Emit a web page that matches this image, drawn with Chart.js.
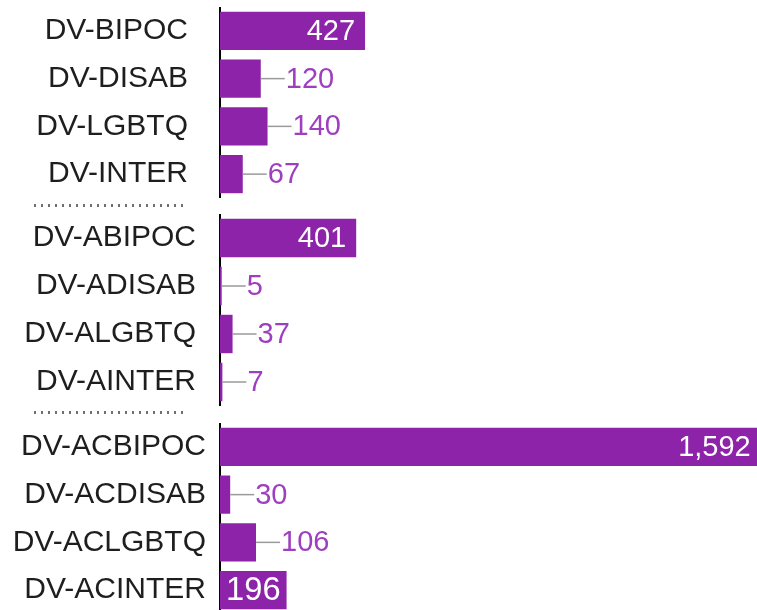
<!DOCTYPE html>
<html>
<head>
<meta charset="utf-8">
<script src="https://cdn.jsdelivr.net/npm/chart.js@4"></script>
<style>
  html, body { margin: 0; padding: 0; background: #fff; width: 757px; height: 610px; overflow: hidden; }
  .panel { position: absolute; left: 0; width: 757px; }
  .sep { position: absolute; left: 34px; width: 150px; height: 3px;
         background: repeating-linear-gradient(to right, #707070 0 2.5px, transparent 2.5px 7px); }
</style>
</head>
<body>
<div class="panel" style="top:7px;height:191px"><canvas id="c1"></canvas></div>
<div class="sep" style="top:204px"></div>
<div class="panel" style="top:214px;height:192px"><canvas id="c2"></canvas></div>
<div class="sep" style="top:411px"></div>
<div class="panel" style="top:423px;height:191px"><canvas id="c3"></canvas></div>
<script>
// ---- data ----
const categories1 = ['DV-BIPOC', 'DV-DISAB', 'DV-LGBTQ', 'DV-INTER'];
const values1 = [427, 120, 140, 67];
const categories2 = ['DV-ABIPOC', 'DV-ADISAB', 'DV-ALGBTQ', 'DV-AINTER'];
const values2 = [401, 5, 37, 7];
const categories3 = ['DV-ACBIPOC', 'DV-ACDISAB', 'DV-ACLGBTQ', 'DV-ACINTER'];
const values3 = [1592, 30, 106, 196];
const xMax = 1581;

const BAR = '#8C23A8';
const OUT_TEXT = '#9E3FC0';
const FONT_FAMILY = '"Liberation Sans", Arial, sans-serif';

const valueLabels = {
  id: 'valueLabels',
  afterDatasetsDraw(chart) {
    const ctx = chart.ctx;
    const meta = chart.getDatasetMeta(0);
    const data = chart.data.datasets[0].data;
    const right = chart.chartArea.right;
    ctx.save();
    ctx.textBaseline = 'middle';
    meta.data.forEach((el, i) => {
      const txt = data[i].toLocaleString('en-US');
      let size = 29;
      ctx.font = size + 'px ' + FONT_FAMILY;
      const w = ctx.measureText(txt).width;
      const x = el.x, y = el.y, base = el.base;
      const barW = x - base;
      if (barW >= w + 12) {
        let pad = 10;
        if (barW < 100) {
          // short bar: the label is scaled to fill the bar
          size = Math.min(36, (barW - 12) / w * 29);
          ctx.font = size + 'px ' + FONT_FAMILY;
          pad = 6;
        }
        ctx.fillStyle = '#ffffff';
        ctx.textAlign = 'right';
        ctx.fillText(txt, Math.min(x, right + 6) - pad, y + 1);
      } else {
        ctx.strokeStyle = '#9a9a9a';
        ctx.lineWidth = 1.5;
        ctx.beginPath();
        ctx.moveTo(x, y);
        ctx.lineTo(x + 24, y);
        ctx.stroke();
        ctx.fillStyle = OUT_TEXT;
        ctx.textAlign = 'left';
        ctx.fillText(txt, x + 25, y + 1);
      }
    });
    ctx.restore();
  }
};

function makeChart(id, labels, values, labelGap) {
  return new Chart(document.getElementById(id), {
    type: 'bar',
    data: {
      labels: labels,
      datasets: [{
        data: values,
        backgroundColor: BAR,
        borderWidth: 0,
        barPercentage: 0.8,
        categoryPercentage: 1.0
      }]
    },
    options: {
      indexAxis: 'y',
      responsive: true,
      maintainAspectRatio: false,
      animation: false,
      devicePixelRatio: 1,
      layout: { padding: 0 },
      plugins: { legend: { display: false }, tooltip: { enabled: false } },
      scales: {
        x: { display: false, min: 0, max: xMax },
        y: {
          position: 'left',
          grid: { display: false, drawTicks: false },
          border: { display: true, color: '#000000', width: 2 },
          ticks: {
            color: '#1e1e1e',
            padding: labelGap,
            font: { size: 30, family: FONT_FAMILY }
          },
          afterFit(scale) {
            scale.width = 220;
            scale.paddingTop = 0;
            scale.paddingBottom = 0;
          }
        }
      }
    },
    plugins: [valueLabels]
  });
}

makeChart('c1', categories1, values1, 32);
makeChart('c2', categories2, values2, 24);
makeChart('c3', categories3, values3, 14);
</script>
</body>
</html>
